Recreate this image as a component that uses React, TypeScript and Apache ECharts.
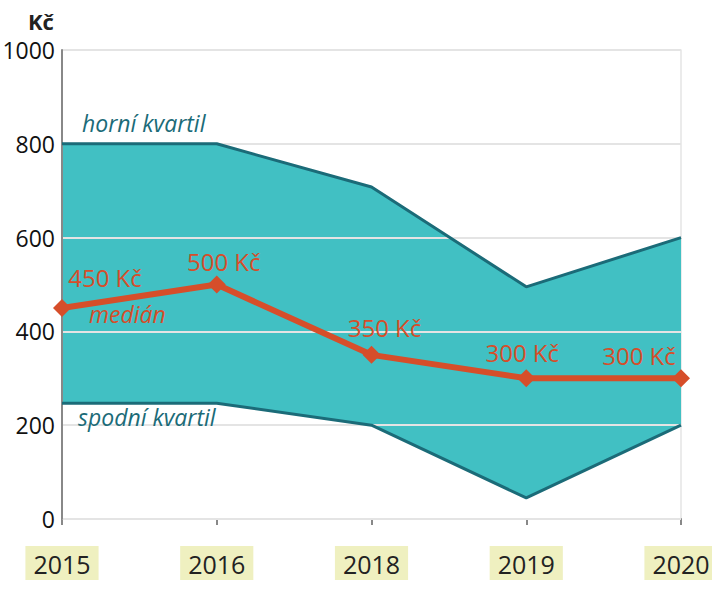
import React, { useEffect, useRef } from "react";
import * as echarts from "echarts";

const years = ["2015", "2016", "2018", "2019", "2020"];
const upperQuartile = [800, 800, 708, 495, 600];
const lowerQuartile = [247, 247, 200, 45, 200];
const median = [450, 500, 350, 300, 300];
const yTicks = [0, 200, 400, 600, 800, 1000];
const labelOffsets = [[43, -30], [7, -23], [13, -27], [-4, -26], [-42, -23]];

const FONT = "Open Sans";
const TEAL = "#41c0c3";
const DARK_TEAL = "#1b6b78";
const ORANGE = "#d64e2a";

export default function App() {
  const ref = useRef<HTMLDivElement>(null);
  useEffect(() => {
    if (!ref.current) return;
    const chart = echarts.init(ref.current, undefined, { renderer: "svg" });
    const band = upperQuartile.map((u, i) => u - lowerQuartile[i]);
    chart.setOption({
      animation: false,
      textStyle: { fontFamily: FONT },
      grid: { left: 62, right: 31, top: 50, bottom: 79, containLabel: false, outerBoundsMode: "none" },
      xAxis: {
        type: "category",
        data: years,
        boundaryGap: false,
        axisLine: { lineStyle: { color: "#888", width: 2 } },
        axisTick: { show: true, length: 6, lineStyle: { color: "#888", width: 2 } },
        axisLabel: {
          color: "#222",
          fontSize: 25,
          fontFamily: FONT,
          backgroundColor: "#eff0c0",
          padding: [5, 8, 4, 8],
          margin: 27,
        },
        splitLine: { show: false },
      },
      yAxis: [
        {
          type: "value",
          min: 0,
          max: 1000,
          interval: 200,
          z: 3,
          axisLine: { show: true, lineStyle: { color: "#888", width: 2 } },
          axisTick: { show: false },
          axisLabel: {
            color: "#111",
            fontSize: 23,
            fontFamily: FONT,
            margin: 7,
            formatter: (v: number) => (yTicks.includes(v) ? String(v) : ""),
          },
          splitLine: { show: true, lineStyle: { color: "#e4e4e4", width: 2 } },
        },
        {
          type: "value",
          min: 0,
          max: 1000,
          interval: 200,
          position: "right",
          axisLine: { show: true, lineStyle: { color: "#e4e4e4", width: 1.5 } },
          axisTick: { show: false },
          axisLabel: { show: false },
          splitLine: { show: false },
        },
      ],
      series: [
        {
          name: "lower",
          type: "line",
          data: lowerQuartile,
          stack: "band",
          symbol: "none",
          z: 4,
          lineStyle: { color: DARK_TEAL, width: 3 },
        },
        {
          name: "band",
          type: "line",
          data: band,
          stack: "band",
          symbol: "none",
          z: 1,
          lineStyle: { opacity: 0, width: 0 },
          areaStyle: { color: TEAL, opacity: 1 },
        },
        {
          name: "upper",
          type: "line",
          data: upperQuartile,
          symbol: "none",
          z: 4,
          lineStyle: { color: DARK_TEAL, width: 3 },
        },
        {
          name: "median",
          type: "line",
          data: median.map((v, i) => ({
            value: v,
            label: {
              show: true,
              position: "inside",
              offset: labelOffsets[i],
              align: "center",
              verticalAlign: "middle",
            },
          })),
          z: 6,
          symbol: "diamond",
          symbolSize: 18,
          itemStyle: { color: ORANGE },
          lineStyle: { color: ORANGE, width: 6 },
          label: {
            show: true,
            color: ORANGE,
            fontSize: 24,
            fontFamily: FONT,
            formatter: (p: any) => `${p.value} Kč`,
          },
        },
      ],
      graphic: [
        {
          type: "text",
          left: 28,
          top: 10,
          style: { text: "Kč", font: `bold 22px "${FONT}"`, fill: "#222" },
        },
        {
          type: "text",
          left: 82,
          top: 111,
          z: 10,
          style: { text: "horní kvartil", font: `italic 23px "${FONT}"`, fill: DARK_TEAL },
        },
        {
          type: "text",
          left: 89,
          top: 302,
          z: 10,
          style: { text: "medián", font: `italic 23px "${FONT}"`, fill: ORANGE },
        },
        {
          type: "text",
          left: 78,
          top: 405,
          z: 10,
          style: { text: "spodní kvartil", font: `italic 23px "${FONT}"`, fill: DARK_TEAL },
        },
      ],
    });
    return () => chart.dispose();
  }, []);
  return <div ref={ref} style={{ width: 712, height: 598, position: "absolute", left: 0, top: 0 }} />;
}
